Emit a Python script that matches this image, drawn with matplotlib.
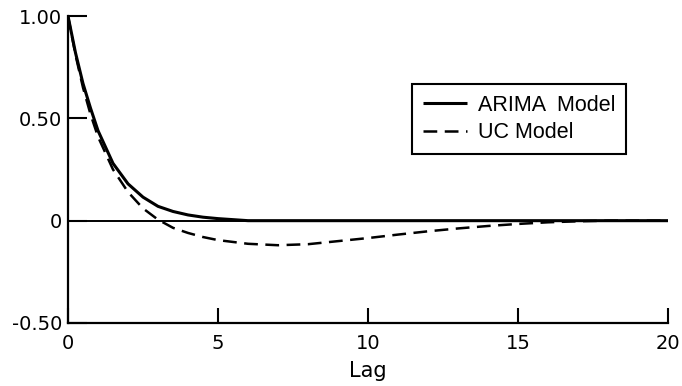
#!/usr/bin/env python3

import numpy as np
import matplotlib
matplotlib.use("Agg")
import matplotlib.pyplot as plt

# Autocorrelation values
lags = [0, 0.25, 0.5, 0.75, 1.0, 1.5, 2.0, 2.5, 3.0, 3.5, 4.0, 4.5, 5, 6, 7, 8,
        9, 10, 11, 12, 13, 14, 15, 16, 17, 18, 19, 20]
arima = [1.00, 0.82, 0.67, 0.55, 0.44, 0.28, 0.18, 0.115, 0.07, 0.045, 0.028,
         0.017, 0.01, 0.0, 0.0, 0.0, 0.0, 0.0, 0.0, 0.0, 0.0, 0.0, 0.0, 0.0,
         0.0, 0.0, 0.0, 0.0]
uc = [1.00, 0.81, 0.65, 0.52, 0.41, 0.25, 0.14, 0.06, 0.005, -0.035, -0.06,
      -0.08, -0.095, -0.113, -0.12, -0.115, -0.10, -0.085, -0.068, -0.052,
      -0.038, -0.026, -0.016, -0.008, -0.003, 0.0, 0.0, 0.0]

x_ticks = [0, 5, 10, 15, 20]
y_ticks = [-0.5, 0, 0.5, 1.0]
y_labels = ["-0.50", "0", "0.50", "1.00"]


def main():
	plt.rcParams['axes.unicode_minus'] = False
	fig = plt.figure(figsize=(6.82, 3.86), dpi=100)
	ax = fig.add_axes([68 / 682, 1 - 323 / 386, 600 / 682, 307 / 386])

	# zero reference line
	ax.plot([0, 20], [0, 0], color='black', lw=1.4, zorder=1)
	ax.plot(lags, arima, color='black', lw=2.2, label='ARIMA  Model',
			solid_capstyle='butt', zorder=3)
	ax.plot(lags, uc, color='black', lw=1.8, dashes=(5.5, 3),
			label='UC Model', zorder=2)

	ax.set_xlim(0, 20)
	ax.set_ylim(-0.5, 1.0)
	for side in ['top', 'right']:
		ax.spines[side].set_visible(False)
	for side in ['left', 'bottom']:
		ax.spines[side].set_linewidth(1.6)

	ax.set_xticks(x_ticks)
	ax.set_xticklabels([str(t) for t in x_ticks], fontsize=14)
	ax.set_yticks(y_ticks)
	ax.set_yticklabels(y_labels, fontsize=14)
	ax.tick_params(axis='x', direction='in', length=11, width=1.5, pad=8)
	ax.tick_params(axis='y', direction='in', length=14, width=1.5, pad=4)
	ax.set_xlabel("Lag", fontsize=15, labelpad=6)

	leg = ax.legend(loc='upper left', bbox_to_anchor=(412 / 682, 1 - 84 / 386),
					bbox_transform=fig.transFigure, borderaxespad=0,
					fancybox=False, framealpha=1, edgecolor='black',
					handlelength=2.05, handletextpad=0.5, borderpad=0.5,
					labelspacing=0.3, prop={'family': 'Liberation Sans', 'size': 15.5})
	leg.get_frame().set_linewidth(1.5)

	fig.savefig("out.png", dpi=100)


if __name__ == "__main__":
	main()
